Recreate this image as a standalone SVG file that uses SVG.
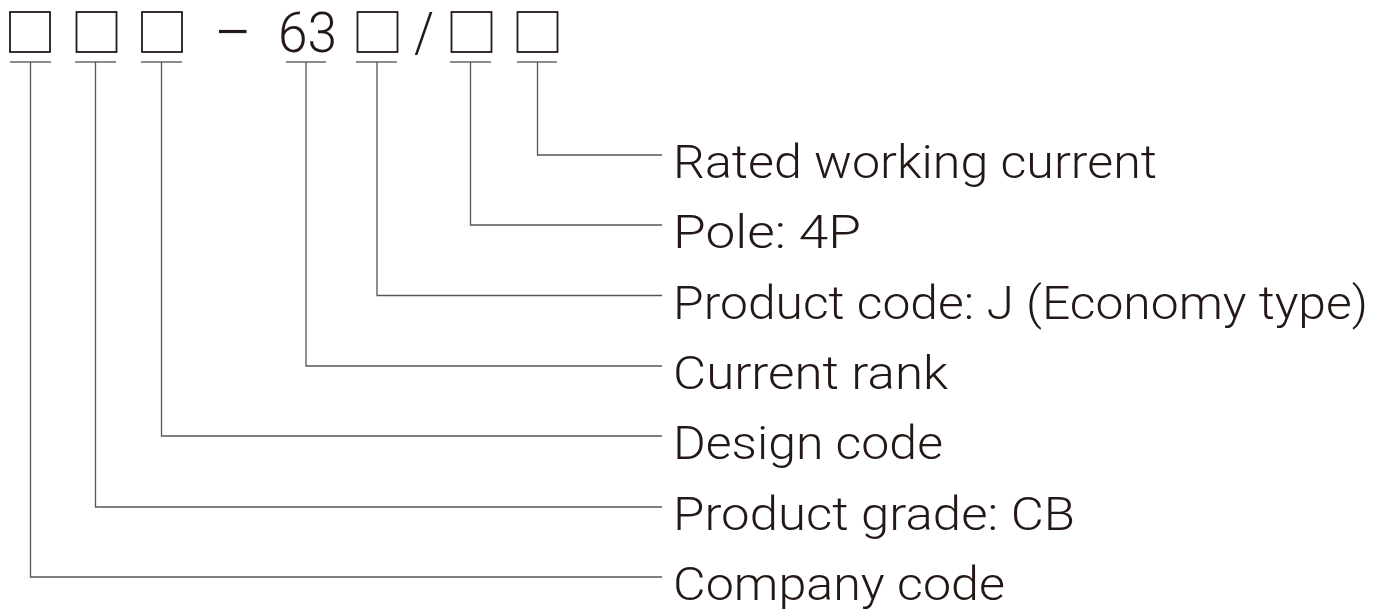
<svg xmlns="http://www.w3.org/2000/svg" width="1386" height="610" viewBox="0 0 1386 610">
<style>
.box{fill:none;stroke:#231815;stroke-width:1.8}
.ul{stroke:#8c8c8c;stroke-width:2.2}
.ln{fill:none;stroke:#555;stroke-width:1.3}
.code{font-family:Roboto,"Liberation Sans",Arial,sans-serif;font-weight:300;font-size:56px;fill:#231815}
.lbl{font-family:Roboto,"Liberation Sans",Arial,sans-serif;font-weight:300;font-size:47px;fill:#231815}
</style>
<rect width="1386" height="610" fill="#fff"/>
<g id="code">
  <rect class="box" x="10" y="12" width="40" height="40"/>
  <rect class="box" x="76.5" y="12" width="40" height="40"/>
  <rect class="box" x="142" y="12" width="40" height="40"/>
  <line x1="219" y1="31.5" x2="246.5" y2="31.5" stroke="#231815" stroke-width="3.2"/>
  <text class="code" x="278" y="52" textLength="59" lengthAdjust="spacingAndGlyphs">63</text>
  <rect class="box" x="357.5" y="12" width="40" height="40"/>
  <text class="code" x="414" y="52" textLength="20" lengthAdjust="spacingAndGlyphs">/</text>
  <rect class="box" x="451.5" y="12" width="40" height="40"/>
  <rect class="box" x="517.5" y="12" width="40" height="40"/>
  <line class="ul" x1="10" y1="62" x2="51" y2="62"/>
  <line class="ul" x1="75" y1="62" x2="116" y2="62"/>
  <line class="ul" x1="141" y1="62" x2="182" y2="62"/>
  <line class="ul" x1="286" y1="62" x2="326" y2="62"/>
  <line class="ul" x1="356" y1="62" x2="397" y2="62"/>
  <line class="ul" x1="450" y1="62" x2="491" y2="62"/>
  <line class="ul" x1="517" y1="62" x2="557" y2="62"/>
</g>
<g id="connectors">
  <polyline class="ln" points="537.5,62 537.5,155 662,155"/>
  <polyline class="ln" points="470.5,62 470.5,225 662,225"/>
  <polyline class="ln" points="377,62 377,295.5 662,295.5"/>
  <polyline class="ln" points="306,62 306,366 662,366"/>
  <polyline class="ln" points="161.5,62 161.5,436 662,436"/>
  <polyline class="ln" points="95.5,62 95.5,507 662,507"/>
  <polyline class="ln" points="30.5,62 30.5,577 662,577"/>
</g>
<g id="label-rated"><text class="lbl" x="673" y="177.5" textLength="484" lengthAdjust="spacingAndGlyphs">Rated working current</text></g>
<g id="label-pole"><text class="lbl" x="673" y="247.5" textLength="188" lengthAdjust="spacingAndGlyphs">Pole: 4P</text></g>
<g id="label-product-code"><text class="lbl" x="673" y="318.5" textLength="695" lengthAdjust="spacingAndGlyphs">Product code: J (Economy type)</text></g>
<g id="label-current-rank"><text class="lbl" x="673" y="388.5" textLength="275" lengthAdjust="spacingAndGlyphs">Current rank</text></g>
<g id="label-design-code"><text class="lbl" x="673" y="458.5" textLength="270" lengthAdjust="spacingAndGlyphs">Design code</text></g>
<g id="label-product-grade"><text class="lbl" x="673" y="529.5" textLength="402" lengthAdjust="spacingAndGlyphs">Product grade: CB</text></g>
<g id="label-company-code"><text class="lbl" x="673" y="599.5" textLength="332" lengthAdjust="spacingAndGlyphs">Company code</text></g>
</svg>
